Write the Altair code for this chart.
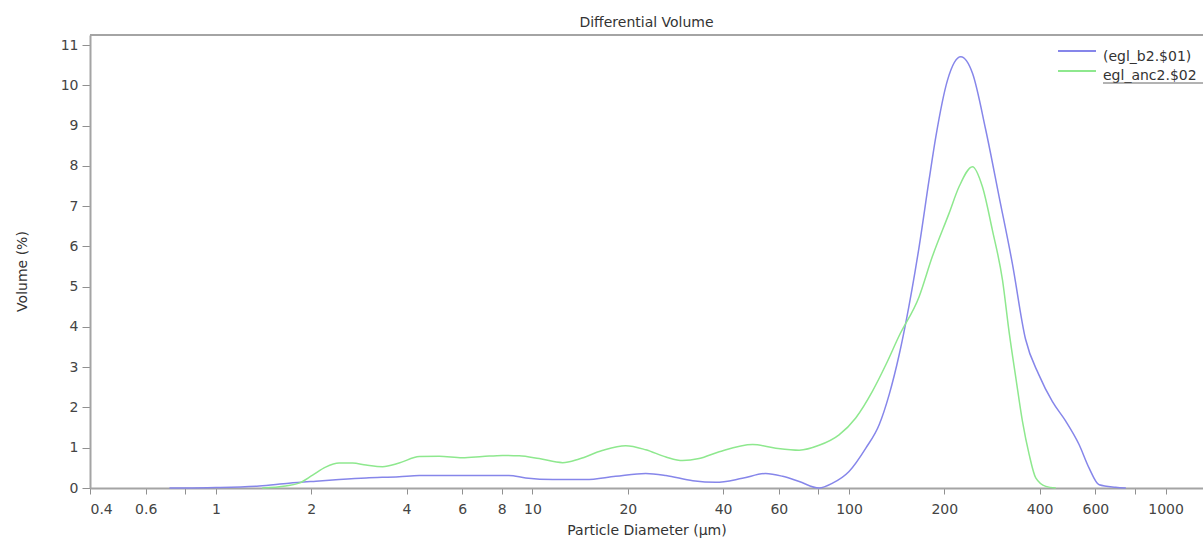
import altair as alt
import pandas as pd

# ---- data ----
series_names = ["(egl_b2.$01)", "egl_anc2.$02"]
series_colors = ["#8686ea", "#8ee88e"]

blue_d = [0.713, 0.8, 1.0, 1.37, 1.7, 2.07, 2.45, 2.98, 3.79, 4.39, 6.15, 8.42, 9.52,
          11.6, 14.7, 18.3, 22.8, 26.4, 32.1, 37.9, 46, 54.5, 61.7, 69.6, 80.4, 88.7,
          100, 113, 124.5, 133.9, 144, 151, 166.5, 179, 188, 204.7, 225.5, 245.5,
          270.4, 298, 328, 361, 398, 438.7, 483.7, 533, 573, 617, 695, 749]
blue_v = [0.0, 0.0, 0.01, 0.05, 0.12, 0.17, 0.21, 0.25, 0.28, 0.31, 0.31, 0.31, 0.25,
          0.21, 0.21, 0.29, 0.36, 0.31, 0.18, 0.14, 0.24, 0.36, 0.29, 0.16, 0.0, 0.12,
          0.41, 0.99, 1.57, 2.32, 3.31, 4.09, 5.99, 7.65, 8.72, 10.13, 10.71, 10.30,
          8.89, 7.23, 5.58, 3.70, 2.81, 2.15, 1.66, 1.08, 0.50, 0.08, 0.02, 0.0]

green_d = [1.40, 1.66, 1.83, 2.02, 2.22, 2.45, 2.70, 2.98, 3.36, 3.79, 4.39, 5.07, 6.0,
           6.95, 8.04, 9.08, 10.5, 12.45, 14.04, 16.6, 19.7, 22.8, 26.4, 29.8, 33.6,
           38.9, 49.6, 58.7, 69.6, 80.4, 93, 105, 118.5, 130.7, 144, 166.5, 183.2,
           207, 222.6, 245.5, 263.9, 283.6, 305.4, 320.7, 336.6, 353, 370.8, 389,
           418.5, 450]
green_v = [0.0, 0.05, 0.12, 0.32, 0.52, 0.62, 0.62, 0.57, 0.53, 0.62, 0.78, 0.79, 0.75,
           0.78, 0.81, 0.80, 0.73, 0.63, 0.72, 0.93, 1.05, 0.95, 0.77, 0.68, 0.73,
           0.90, 1.08, 0.99, 0.94, 1.06, 1.32, 1.74, 2.40, 3.06, 3.78, 4.75, 5.74,
           6.82, 7.48, 7.98, 7.48, 6.41, 5.16, 3.85, 2.73, 1.66, 0.83, 0.25,
           0.04, 0.0]

x_ticks = [0.4, 0.6, 0.8, 1, 2, 4, 6, 8, 10, 20, 40, 60, 80, 100, 200, 400, 600, 800, 1000]
y_ticks = list(range(0, 12))

title_text = "Differential Volume"
x_title = "Particle Diameter (µm)"
y_title = "Volume (%)"

df = pd.concat([
    pd.DataFrame({"d": blue_d, "v": blue_v, "series": series_names[0]}),
    pd.DataFrame({"d": green_d, "v": green_v, "series": series_names[1]}),
])
one = pd.DataFrame({"k": [0]})

W, H = 1113, 453
FONT = "DejaVu Sans"
AX = "#a4a4a4"

lines = alt.Chart(df).mark_line(strokeWidth=1.5, interpolate="monotone").encode(
    x=alt.X("d:Q",
            scale=alt.Scale(type="log", domain=[0.4, 1313], nice=False),
            axis=alt.Axis(values=x_ticks, format="~g", grid=False,
                          labelExpr="(datum.value == 0.8 || datum.value == 80 || datum.value == 800) ? '' : datum.label",
                          title=x_title, labelPadding=8, titleY=42,
                          titleBaseline="middle",
                          domainColor=AX, domainWidth=2, tickColor="#909090", tickSize=6,
                          labelColor="#444", labelFont=FONT, labelFontSize=14,
                          titleColor="#333", titleFont=FONT, titleFontSize=14,
                          titleFontWeight="normal")),
    y=alt.Y("v:Q",
            scale=alt.Scale(domain=[0, 11.25], nice=False),
            axis=alt.Axis(values=y_ticks, title=y_title, labelPadding=4, grid=False,
                          titleX=-68, titleY=236, titleAlign="center",
                          titleBaseline="middle",
                          domainColor=AX, domainWidth=2, tickColor="#909090", tickSize=8,
                          labelColor="#444", labelFont=FONT, labelFontSize=14,
                          titleColor="#333", titleFont=FONT, titleFontSize=14,
                          titleFontWeight="normal")),
    color=alt.Color("series:N",
                    scale=alt.Scale(domain=series_names, range=series_colors),
                    legend=None),
)

top_border = alt.Chart(one).mark_rule(color=AX, strokeWidth=2).encode(
    x=alt.value(0), x2=alt.value(W + 10), y=alt.value(0))

title_mark = alt.Chart(one).mark_text(text=title_text, align="center", baseline="alphabetic",
                                      font=FONT, fontSize=14, color="#333").encode(
    x=alt.value(W / 2), y=alt.value(-8))

leg_line1 = alt.Chart(one).mark_rule(color=series_colors[0], strokeWidth=2).encode(
    x=alt.value(968), x2=alt.value(1006), y=alt.value(16))
leg_line2 = alt.Chart(one).mark_rule(color=series_colors[1], strokeWidth=2).encode(
    x=alt.value(968), x2=alt.value(1006), y=alt.value(36))
leg_text1 = alt.Chart(one).mark_text(text=series_names[0], align="left", baseline="alphabetic",
                                     font=FONT, fontSize=14, color="#333").encode(
    x=alt.value(1013), y=alt.value(26))
leg_text2 = alt.Chart(one).mark_text(text=series_names[1], align="left", baseline="alphabetic",
                                     font=FONT, fontSize=14, color="#333").encode(
    x=alt.value(1013), y=alt.value(45))
leg_under = alt.Chart(one).mark_rule(color="#666", strokeWidth=1).encode(
    x=alt.value(1013), x2=alt.value(1130), y=alt.value(48))

chart = alt.layer(lines, top_border, title_mark, leg_line1, leg_line2,
                  leg_text1, leg_text2, leg_under).properties(
    width=W, height=H,
    padding={"left": 90, "top": 35, "right": 0, "bottom": 50},
    autosize=alt.AutoSizeParams(type="none"),
    background="white",
).configure_view(stroke=None)

chart.save("out.html", embed_options={"renderer": "svg", "actions": False})
